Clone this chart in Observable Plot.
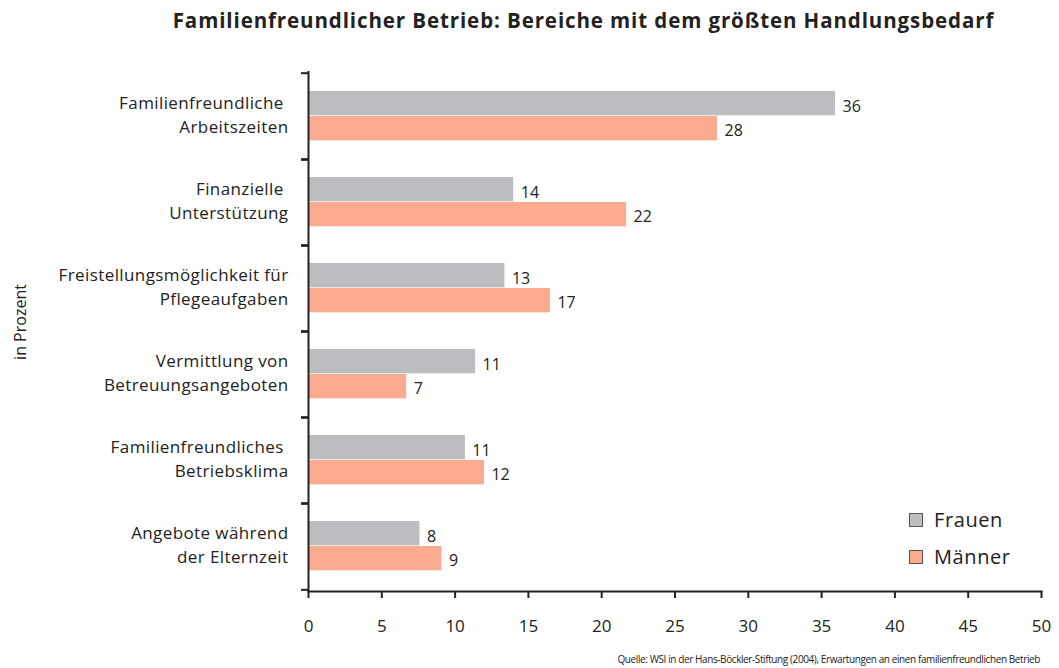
<!DOCTYPE html>
<html>
<head>
<meta charset="utf-8">
<script src="https://cdn.jsdelivr.net/npm/d3@7"></script>
<script src="https://cdn.jsdelivr.net/npm/@observablehq/plot@0.6"></script>
<style>
  body { margin: 0; background: #fff; font-family: "Open Sans", sans-serif; color: #222; }
  #wrap { position: relative; width: 1059px; height: 668px; overflow: hidden; }
  #title { height: 45px; line-height: 40px; font-size: 20.5px; letter-spacing: 0.9px; font-weight: bold; text-align: center; padding-left: 108px; box-sizing: border-box; }
  #caption { height: 23px; font-size: 10px; letter-spacing: -0.4px; text-align: right; padding-right: 19px; line-height: 28px; }
  #ylabel { position: absolute; left: 20px; top: 322px; transform: translate(-50%, -50%) rotate(-90deg); font-size: 16px; white-space: nowrap; }
  .legend { position: absolute; left: 909px; font-size: 20px; letter-spacing: 0.6px; display: flex; align-items: center; }
  .legend span.sw { display: inline-block; width: 12px; height: 12px; border: 1.5px solid #555; margin-right: 11px; }
  svg text { white-space: pre; }
  svg g.catlabel text { letter-spacing: 0.4px; }
</style>
</head>
<body>
<div id="wrap">
  <div id="title">Familienfreundlicher Betrieb: Bereiche mit dem größten Handlungsbedarf</div>
  <div id="chart"></div>
  <div id="caption">Quelle: WSI in der Hans-Böckler-Stiftung (2004), Erwartungen an einen familienfreundlichen Betrieb</div>
  <div id="ylabel">in Prozent</div>
  <div id="legend"></div>
</div>
<script>
const categories = [
  "Familienfreundliche \nArbeitszeiten",
  "Finanzielle \nUnterstützung",
  "Freistellungsmöglichkeit für\nPflegeaufgaben",
  "Vermittlung von\nBetreuungsangeboten",
  "Familienfreundliches \nBetriebsklima",
  "Angebote während\nder Elternzeit"
];
const seriesNames = ["Frauen", "Männer"];
const frauen = [35.95, 14.0, 13.4, 11.4, 10.7, 7.6];
const maenner = [27.9, 21.7, 16.5, 6.7, 12.0, 9.1];
const frauenLabels = ["36", "14", "13", "11", "11", "8"];
const maennerLabels = ["28", "22", "17", "7", "12", "9"];
const xTicks = [0, 5, 10, 15, 20, 25, 30, 35, 40, 45, 50];
const colors = ["#bcbdc0", "#f9aa8f"];

const dataF = categories.map((c, i) => ({cat: c, value: frauen[i], label: frauenLabels[i]}));
const dataM = categories.map((c, i) => ({cat: c, value: maenner[i], label: maennerLabels[i]}));

const H = 600, mt = 26, mb = 54;
const bw = (H - mt - mb) / categories.length;

const plot = Plot.plot({
  width: 1059,
  height: H,
  marginTop: mt,
  marginBottom: mb,
  marginLeft: 308,
  marginRight: 18,
  style: {fontFamily: "Open Sans, sans-serif", fontSize: "16px", color: "#222", background: "#fff"},
  x: {domain: [0, 50], ticks: xTicks, label: null},
  y: {type: "band", domain: categories, padding: 0, label: null, axis: null},
  marks: [
    Plot.barX(dataF, {x: "value", y: "cat", fill: colors[0], insetTop: 18, insetBottom: bw - 43}),
    Plot.barX(dataM, {x: "value", y: "cat", fill: colors[1], insetTop: 43, insetBottom: bw - 68}),
    Plot.text(dataF, {x: "value", y: "cat", text: "label", textAnchor: "start", dx: 7, dy: -10, fill: "#222", fontSize: 16}),
    Plot.text(dataM, {x: "value", y: "cat", text: "label", textAnchor: "start", dx: 7, dy: 14, fill: "#222", fontSize: 16}),
    Plot.text(categories, {y: d => d, text: d => d, frameAnchor: "left", textAnchor: "end", dx: -20, dy: -3, lineHeight: 1.4, fill: "#222", fontSize: 17, className: "catlabel"}),
    Plot.axisY({domain: categories, tickSize: 7, text: null, dy: -bw / 2, stroke: "#222", strokeWidth: 2}),
    Plot.axisY({domain: categories, tickSize: 7, text: null, dy: bw / 2, stroke: "#222", strokeWidth: 2}),
    Plot.ruleX([0], {stroke: "#222", strokeWidth: 2}),
    Plot.frame({anchor: "bottom", stroke: "#222", strokeWidth: 2}),
    Plot.axisX({ticks: xTicks, tickSize: 7, tickPadding: 21, stroke: "#222", strokeWidth: 2, fill: "#222", fontSize: 17, label: null})
  ]
});
document.getElementById("chart").appendChild(plot);

const legend = document.getElementById("legend");
const legendTops = [506, 543];
seriesNames.forEach((name, i) => {
  const row = document.createElement("div");
  row.className = "legend";
  row.style.top = legendTops[i] + "px";
  const sw = document.createElement("span");
  sw.className = "sw";
  sw.style.background = colors[i];
  row.appendChild(sw);
  row.appendChild(document.createTextNode(name));
  legend.appendChild(row);
});
</script>
</body>
</html>
